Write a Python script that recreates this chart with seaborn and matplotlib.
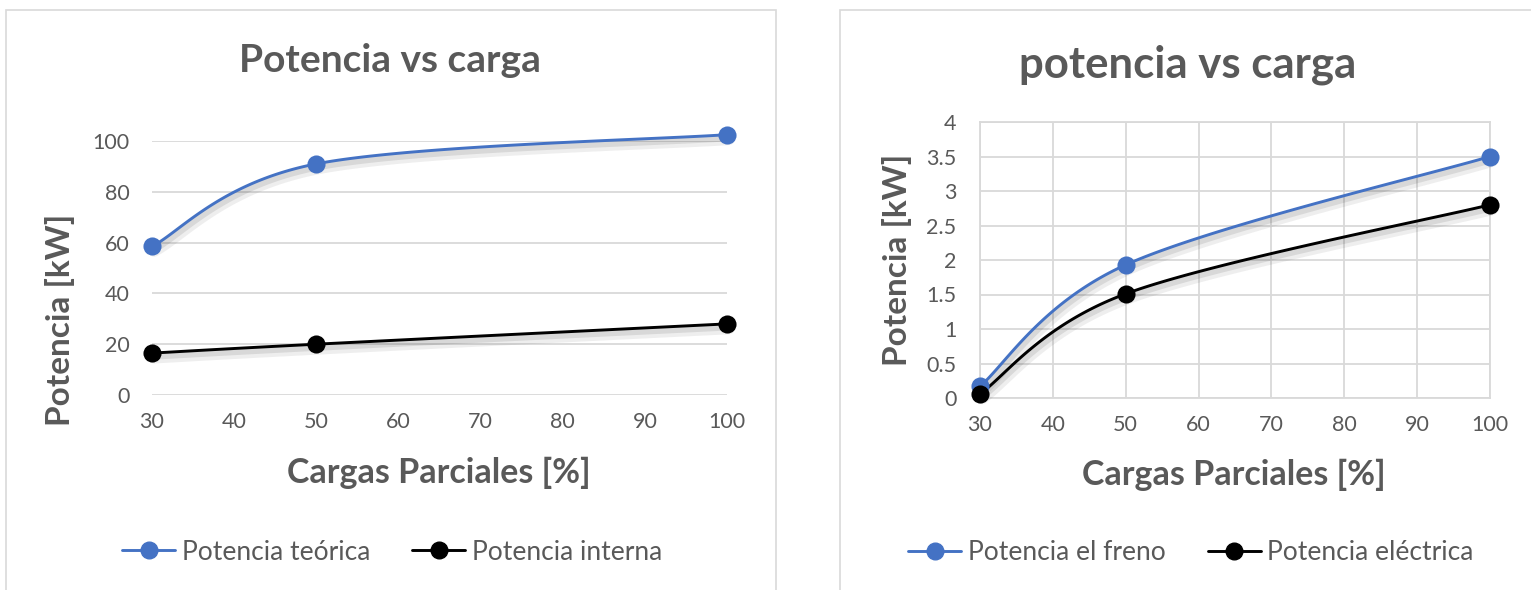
import numpy as np
import pandas as pd
import matplotlib
matplotlib.use("Agg")
import matplotlib.pyplot as plt
import matplotlib.patheffects as pe
from matplotlib.lines import Line2D
from matplotlib.patches import Rectangle
import seaborn as sns

# ---------------- data ----------------
cargas = [30, 50, 100]
pot_teorica = [58.5, 91.0, 102.5]
pot_interna = [16.5, 20.0, 28.0]
pot_freno = [0.17, 1.93, 3.5]
pot_electrica = [0.06, 1.51, 2.8]

x_ticks = [30, 40, 50, 60, 70, 80, 90, 100]
y_ticks_left = [0, 20, 40, 60, 80, 100]
y_ticks_right = [0, 0.5, 1, 1.5, 2, 2.5, 3, 3.5, 4]
y_ticklabels_right = ["0", "0.5", "1", "1.5", "2", "2.5", "3", "3.5", "4"]

title_left = "Potencia vs carga"
title_right = "potencia vs carga"
xlabel = "Cargas Parciales [%]"
ylabel = "Potencia [kW]"
labels_left = ["Potencia teórica", "Potencia interna"]
labels_right = ["Potencia el freno", "Potencia eléctrica"]

BLUE = "#4472C4"
BLACK = "#000000"
TXT = "#595959"
GRID = "#D9D9D9"

sns.set_theme(style="white")
plt.rcParams["font.family"] = ["Lato", "DejaVu Sans"]

W, H = 1531, 590
fig = plt.figure(figsize=(W / 100, H / 100), dpi=100)

# panel borders
fig.patches.append(Rectangle((6 / W, 0 - 0.01), (776 - 6) / W, 1 - 10 / H + 0.01,
                             transform=fig.transFigure, fill=False,
                             edgecolor=GRID, linewidth=1.2))
fig.patches.append(Rectangle((840 / W, 0 - 0.01), (W + 10 - 840) / W, 1 - 10 / H + 0.01,
                             transform=fig.transFigure, fill=False,
                             edgecolor=GRID, linewidth=1.2))

axL = fig.add_axes([152 / W, (H - 395) / H, (727 - 152) / W, (395 - 141) / H])
axR = fig.add_axes([980 / W, (H - 398) / H, (1490 - 980) / W, (398 - 122) / H])


def excel_smooth(ax, x, y, n=60):
    """Excel-style smoothed line (Catmull-Rom Bezier in screen space)."""
    pos = ax.get_position()
    wpx = pos.width * W
    hpx = pos.height * H
    x0, x1 = ax.get_xlim()
    y0, y1 = ax.get_ylim()
    sx = wpx / (x1 - x0)
    sy = hpx / (y1 - y0)
    P = np.column_stack([np.asarray(x, float) * sx, np.asarray(y, float) * sy])
    out = []
    m = len(P)
    for i in range(m - 1):
        p0 = P[i - 1] if i > 0 else P[i]
        p1 = P[i]
        p2 = P[i + 1]
        p3 = P[i + 2] if i + 2 < m else P[i + 1]
        c1 = p1 + (p2 - p0) / 6.0
        c2 = p2 - (p3 - p1) / 6.0
        t = np.linspace(0, 1, n)[:, None]
        if i > 0:
            t = t[1:]
        seg = ((1 - t) ** 3) * p1 + 3 * ((1 - t) ** 2) * t * c1 + 3 * (1 - t) * t ** 2 * c2 + t ** 3 * p2
        out.append(seg)
    out = np.vstack(out)
    return out[:, 0] / sx, out[:, 1] / sy


shadow = [pe.SimpleLineShadow(offset=(1.5, -3.5), shadow_color="k", alpha=0.07, linewidth=8),
          pe.SimpleLineShadow(offset=(1, -2.5), shadow_color="k", alpha=0.10, linewidth=4.5),
          pe.Normal()]


def draw(ax, series, colors, xlim, ylim):
    ax.set_xlim(*xlim)
    ax.set_ylim(*ylim)
    for vals, col in zip(series, colors):
        xs, ys = excel_smooth(ax, cargas, vals)
        df = pd.DataFrame({"x": xs, "y": ys})
        sns.lineplot(data=df, x="x", y="y", sort=False, estimator=None, color=col,
                     linewidth=2.1, ax=ax, clip_on=False, zorder=3,
                     path_effects=shadow)
        sns.scatterplot(x=cargas, y=vals, color=col, s=170, edgecolor=col, linewidth=0,
                        ax=ax, clip_on=False, zorder=4)
    ax.set_xlabel("")
    ax.set_ylabel("")


draw(axL, [pot_teorica, pot_interna], [BLUE, BLACK], (30, 100), (0, 100))
draw(axR, [pot_freno, pot_electrica], [BLUE, BLACK], (30, 100), (0, 4))

for ax in (axL, axR):
    ax.set_xticks(x_ticks)
    ax.set_xticklabels([str(v) for v in x_ticks])
    ax.tick_params(axis="both", length=0, labelsize=15.5, labelcolor=TXT)
    ax.tick_params(axis="x", pad=12)
    ax.set_facecolor("none")

axL.set_yticks(y_ticks_left)
axL.set_yticklabels([str(v) for v in y_ticks_left])
axL.tick_params(axis="y", pad=16)
axL.grid(axis="y", color=GRID, linewidth=1.3)
axL.grid(axis="x", visible=False)
for s in axL.spines.values():
    s.set_visible(False)

axR.set_yticks(y_ticks_right)
axR.set_yticklabels(y_ticklabels_right)
axR.tick_params(axis="y", pad=17)
axR.grid(axis="both", color=GRID, linewidth=1.3)
for s in axR.spines.values():
    s.set_visible(True)
    s.set_color(GRID)
    s.set_linewidth(1.3)
axR.set_axisbelow(True)
axL.set_axisbelow(True)

# titles & labels
fig.text(390 / W, 1 - 60 / H, title_left, ha="center", va="center",
         fontsize=28, fontweight="bold", color=TXT)
fig.text(1188 / W, 1 - 65 / H, title_right, ha="center", va="center",
         fontsize=31.5, fontweight="bold", color=TXT)
fig.text(439 / W, 1 - 473 / H, xlabel, ha="center", va="center",
         fontsize=24.5, fontweight="bold", color=TXT)
fig.text(1234 / W, 1 - 475 / H, xlabel, ha="center", va="center",
         fontsize=24.5, fontweight="bold", color=TXT)
fig.text(60 / W, 1 - 320 / H, ylabel, ha="center", va="center", rotation=90,
         fontsize=24, fontweight="bold", color=TXT)
fig.text(897 / W, 1 - 260 / H, ylabel, ha="center", va="center", rotation=90,
         fontsize=24, fontweight="bold", color=TXT)


def legend(labels, cx, cy):
    handles = [Line2D([], [], color=BLUE, linewidth=2.1, marker="o", markersize=12),
               Line2D([], [], color=BLACK, linewidth=2.1, marker="o", markersize=12)]
    leg = fig.legend(handles, labels, loc="center", bbox_to_anchor=(cx / W, 1 - cy / H),
                     ncol=2, frameon=False, fontsize=19, handlelength=2.0,
                     handletextpad=0.25, columnspacing=1.6, labelcolor=TXT)
    return leg


legend(labels_left, 392, 552)
legend(labels_right, 1191, 553)

fig.savefig("out.png", dpi=100)
